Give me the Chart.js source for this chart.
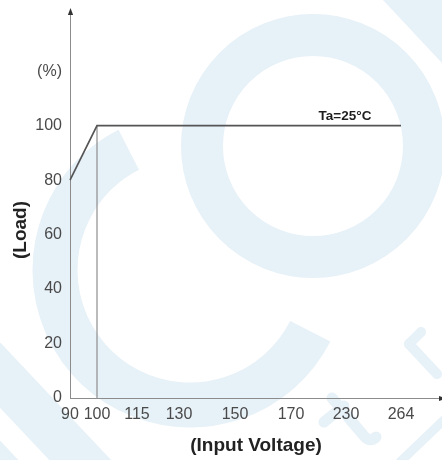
<!DOCTYPE html>
<html>
<head>
<meta charset="utf-8">
<script src="https://cdn.jsdelivr.net/npm/chart.js@4/dist/chart.umd.min.js"></script>
<style>
  html, body { margin: 0; padding: 0; background: #fff; }
  #wrap { width: 442px; height: 460px; position: relative; }
</style>
</head>
<body>
<div id="wrap"><canvas id="c" width="442" height="460"></canvas></div>
<script>
// ---- data ----
const voltageTicks = [90, 100, 115, 130, 150, 170, 230, 264];
const loadTicks = [0, 20, 40, 60, 80, 100, 120];
const loadTickLabels = ['0', '20', '40', '60', '80', '100', '(%)'];
const curveVoltage = [90, 100, 264];
const curveLoad = [80, 100, 100];
const guideVoltage = [100, 100];
const guideLoad = [0, 100];
const seriesLabel = 'Ta=25°C';
const xTitle = '(Input Voltage)';
const yTitle = '(Load)';

// relative widths of the (non-uniform) voltage axis segments, last = empty tail
const segmentWidths = [27, 40, 42, 56, 56, 55, 55, 41];

// ---- piecewise voltage scale ----
class SegmentScale extends Chart.LinearScale {
  determineDataLimits() {
    const s = this.options.stops;
    this.min = s[0];
    this.max = s[s.length - 1];
  }
  buildTicks() {
    return this.options.stops.map(v => ({ value: v }));
  }
  _frac(v) {
    const s = this.options.stops, w = this.options.spans;
    const tot = w.reduce((a, b) => a + b, 0);
    let acc = 0;
    for (let i = 0; i < s.length - 1; i++) {
      if (v <= s[i + 1] || i === s.length - 2) {
        return (acc + w[i] * (v - s[i]) / (s[i + 1] - s[i])) / tot;
      }
      acc += w[i];
    }
    return 0;
  }
  getPixelForValue(v) {
    return this.getPixelForDecimal(this._frac(v));
  }
  getValueForPixel(p) {
    const d = this.getDecimalForPixel(p);
    const s = this.options.stops, w = this.options.spans;
    const tot = w.reduce((a, b) => a + b, 0);
    let acc = 0;
    for (let i = 0; i < s.length - 1; i++) {
      const f = w[i] / tot;
      if (d <= acc + f || i === s.length - 2) {
        return s[i] + (d - acc) / f * (s[i + 1] - s[i]);
      }
      acc += f;
    }
    return s[0];
  }
}
SegmentScale.id = 'segment';
SegmentScale.defaults = {};
Chart.register(SegmentScale);

// ---- watermark + arrows + annotation ----
const decor = {
  id: 'decor',
  beforeDraw(chart) {
    const ctx = chart.ctx;
    ctx.save();
    ctx.fillStyle = '#fff';
    ctx.fillRect(0, 0, chart.width, chart.height);
    const wm = '#e7f1f8';
    ctx.strokeStyle = wm;
    ctx.fillStyle = wm;
    ctx.lineCap = 'butt';
    // ring
    ctx.lineWidth = 42;
    ctx.beginPath(); ctx.arc(313, 146, 111, 0, Math.PI * 2); ctx.stroke();
    // C arc
    ctx.lineWidth = 45;
    ctx.beginPath(); ctx.arc(190, 270, 135, 27 * Math.PI / 180, 243 * Math.PI / 180); ctx.stroke();
    // diagonal stripes bottom-left
    ctx.lineWidth = 45;
    ctx.beginPath(); ctx.moveTo(-50, 322); ctx.lineTo(150, 534); ctx.stroke();
    ctx.beginPath(); ctx.moveTo(-50, 420); ctx.lineTo(100, 580); ctx.stroke();
    // top-right wedge
    ctx.beginPath(); ctx.moveTo(383, 0); ctx.lineTo(442, 0); ctx.lineTo(442, 63); ctx.closePath(); ctx.fill();
    // letters t / r bottom-right
    ctx.lineWidth = 11; ctx.lineCap = 'round';
    ctx.beginPath(); ctx.moveTo(332, 398); ctx.lineTo(364, 436); ctx.quadraticCurveTo(370, 443, 376, 437); ctx.stroke();
    ctx.beginPath(); ctx.moveTo(324, 422); ctx.lineTo(344, 406); ctx.stroke();
    ctx.lineWidth = 10;
    ctx.beginPath(); ctx.moveTo(409, 344); ctx.lineTo(437, 374); ctx.stroke();
    ctx.beginPath(); ctx.moveTo(409, 344); ctx.lineTo(421, 332); ctx.stroke();
    ctx.lineWidth = 9;
    ctx.beginPath(); ctx.moveTo(446, 418); ctx.lineTo(400, 462); ctx.stroke();
    ctx.restore();
  },
  afterDraw(chart) {
    const ctx = chart.ctx;
    const a = chart.chartArea;
    const x0 = Math.round(a.left) + 0.5;
    const yb = Math.round(a.bottom) + 0.5;
    ctx.save();
    ctx.strokeStyle = '#8c8c8c';
    ctx.lineWidth = 1;
    ctx.beginPath(); ctx.moveTo(x0, a.top); ctx.lineTo(x0, 13); ctx.stroke();
    ctx.fillStyle = '#333';
    ctx.beginPath(); ctx.moveTo(x0, 8); ctx.lineTo(x0 - 2.6, 15); ctx.lineTo(x0 + 2.6, 15); ctx.closePath(); ctx.fill();
    ctx.beginPath(); ctx.moveTo(446, yb); ctx.lineTo(439, yb - 2.6); ctx.lineTo(439, yb + 2.6); ctx.closePath(); ctx.fill();
    // series annotation
    const xs = chart.scales.x, ys = chart.scales.y;
    ctx.fillStyle = '#1e1e1e';
    ctx.font = 'bold 13.5px "Liberation Sans", Arial, sans-serif';
    ctx.textAlign = 'center';
    ctx.textBaseline = 'alphabetic';
    ctx.fillText(seriesLabel, xs.getPixelForValue(230) - 1, ys.getPixelForValue(100) - 6);
    ctx.restore();
  }
};

const tickFont = { family: '"Liberation Sans", Arial, sans-serif', size: 16 };
const titleFont = { family: '"Liberation Sans", Arial, sans-serif', size: 19, weight: 'bold' };

new Chart(document.getElementById('c'), {
  type: 'line',
  data: {
    datasets: [
      {
        label: seriesLabel,
        data: curveVoltage.map((v, i) => ({ x: v, y: curveLoad[i] })),
        borderColor: '#555',
        borderWidth: 1.7,
        pointRadius: 0,
        tension: 0,
        fill: false
      },
      {
        label: 'guide',
        data: guideVoltage.map((v, i) => ({ x: v, y: guideLoad[i] })),
        borderColor: '#8e8e8e',
        borderWidth: 1.2,
        pointRadius: 0,
        fill: false
      }
    ]
  },
  options: {
    responsive: false,
    animation: false,
    devicePixelRatio: 1,
    layout: { padding: { top: 62, right: 0, left: 0, bottom: 0 } },
    plugins: { legend: { display: false }, tooltip: { enabled: false } },
    scales: {
      x: {
        type: 'segment',
        stops: voltageTicks,
        spans: segmentWidths,
        grid: { display: false, drawTicks: false },
        border: { display: true, color: '#8c8c8c', width: 1 },
        ticks: {
          autoSkip: false, maxRotation: 0, minRotation: 0,
          padding: 7, color: '#4a4a4a', font: tickFont,
          callback: (v) => String(v)
        },
        title: { display: true, text: xTitle, color: '#222', font: titleFont, padding: { top: 0, bottom: 3 } },
        afterFit(scale) { scale.height = 62; }
      },
      y: {
        type: 'linear',
        min: 0,
        max: 123.4,
        grid: { display: false, drawTicks: false },
        border: { display: true, color: '#8c8c8c', width: 1 },
        afterBuildTicks(scale) { scale.ticks = loadTicks.map(v => ({ value: v })); },
        ticks: {
          padding: 8, color: '#4a4a4a', font: tickFont,
          callback: (v) => loadTickLabels[loadTicks.indexOf(v)]
        },
        title: { display: true, text: yTitle, color: '#222', font: titleFont, padding: { top: 9, bottom: 0 } },
        afterFit(scale) { scale.width = 70; }
      }
    }
  },
  plugins: [decor]
});
</script>
</body>
</html>
